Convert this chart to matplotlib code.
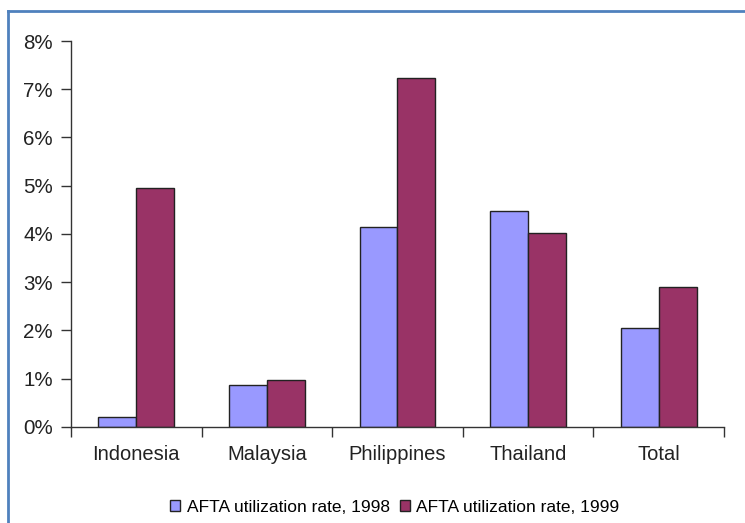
import numpy as np
import matplotlib.pyplot as plt
from matplotlib.lines import Line2D
from matplotlib.ticker import PercentFormatter

plt.rcParams['font.family'] = ['Liberation Sans', 'DejaVu Sans']

countries = ['Indonesia', 'Malaysia', 'Philippines', 'Thailand', 'Total']
rate_1998 = [0.21, 0.88, 4.14, 4.48, 2.05]
rate_1999 = [4.96, 0.98, 7.23, 4.02, 2.91]

fig = plt.figure(figsize=(7.45, 5.23), dpi=100)
ax = fig.add_axes([0.0953, 0.1836, 0.8765, 0.738])

x = np.arange(len(countries))
w = 0.29
ax.bar(x - w/2, rate_1998, w, color='#9999FF', edgecolor='#222222', linewidth=1,
       label='AFTA utilization rate, 1998')
ax.bar(x + w/2, rate_1999, w, color='#993366', edgecolor='#222222', linewidth=1,
       label='AFTA utilization rate, 1999')

ax.set_xlim(-0.5, len(countries) - 0.5)
ax.set_ylim(0, 8)
ax.set_yticks(np.arange(0, 9, 1))
ax.yaxis.set_major_formatter(PercentFormatter(decimals=0))
ax.set_xticks(np.arange(-0.5, len(countries), 1))
ax.set_xticklabels([])
ax.set_xticks(x, minor=True)
ax.set_xticklabels(countries, minor=True)
ax.tick_params(axis='x', which='minor', length=0, pad=13, labelsize=14.5, colors='#222222')
ax.tick_params(axis='x', which='major', length=7, width=1, color='#333333')
ax.tick_params(axis='y', length=7, width=1, pad=6, labelsize=14.8, color='#333333',
               labelcolor='#222222')

for s in ['top', 'right']:
    ax.spines[s].set_visible(False)
for s in ['left', 'bottom']:
    ax.spines[s].set_color('#333333')
    ax.spines[s].set_linewidth(1)

ax.legend(loc='center', bbox_to_anchor=(0.53, 1 - 507/523), bbox_transform=fig.transFigure,
          ncol=2, frameon=False, fontsize=12.5, handlelength=0.55, handleheight=0.55,
          handletextpad=0.4, columnspacing=0.6)

# blue frame around the slide
fig.add_artist(Line2D([8/745, 8/745], [0, 1 - 11/523], color='#4F81BD', linewidth=2,
                      transform=fig.transFigure))
fig.add_artist(Line2D([8/745, 1], [1 - 11/523, 1 - 11/523], color='#4F81BD', linewidth=2,
                      transform=fig.transFigure))

fig.savefig('out.png', dpi=100)
